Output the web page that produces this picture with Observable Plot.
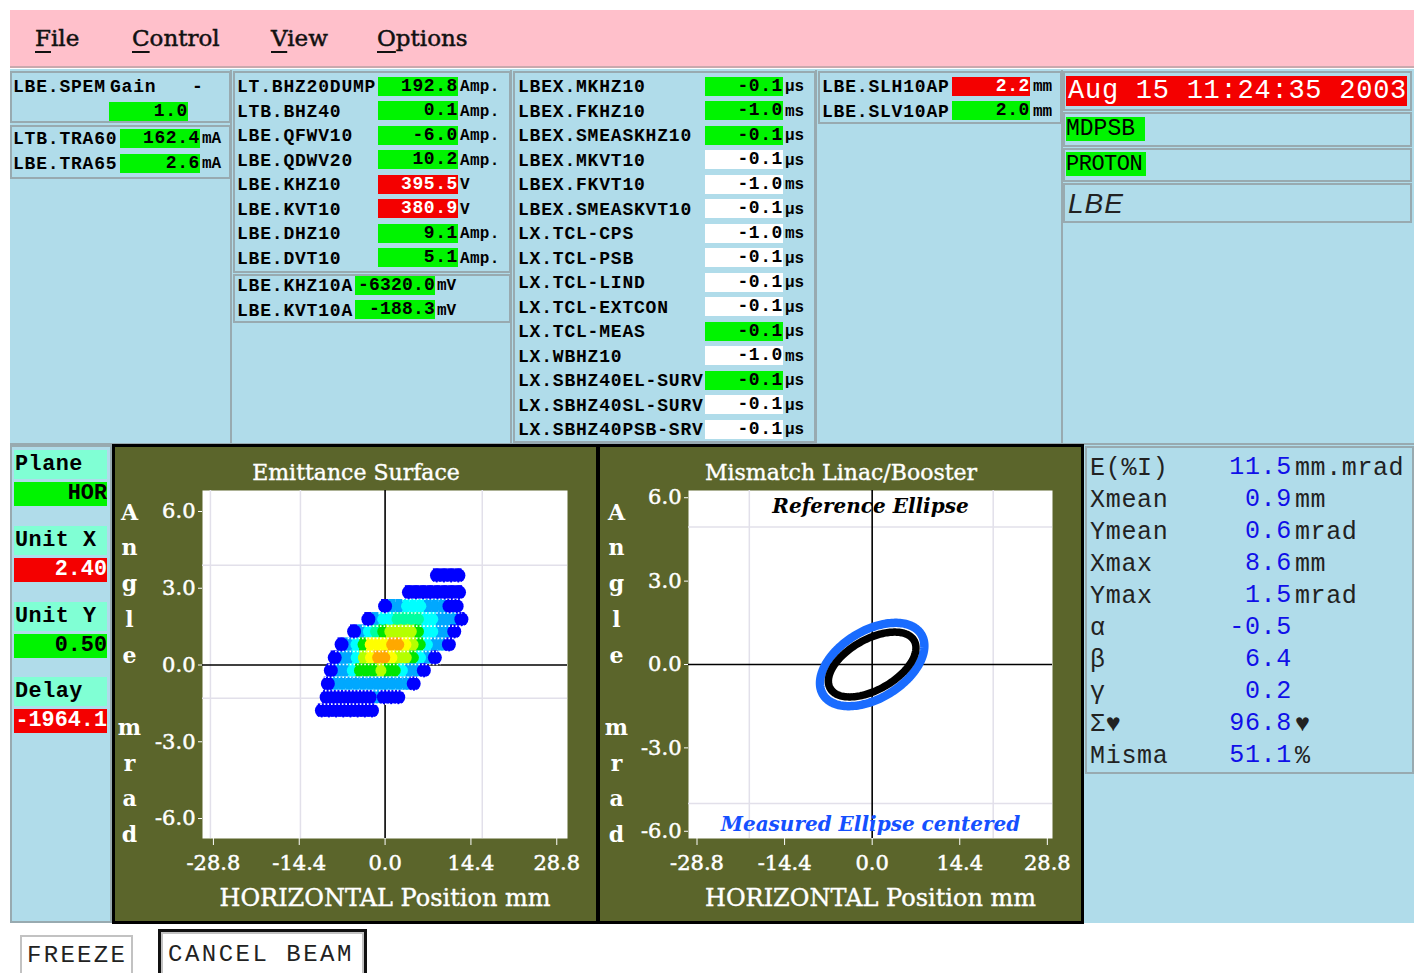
<!DOCTYPE html>
<html>
<head>
<meta charset="utf-8">
<script src="https://cdn.jsdelivr.net/npm/d3@7"></script>
<script src="https://cdn.jsdelivr.net/npm/@observablehq/plot@0.6"></script>
<style>
  html, body { margin: 0; padding: 0; background: #fff; }
  #app { position: relative; width: 1414px; height: 973px; overflow: hidden; background: #fff; }
  #app div { position: absolute; box-sizing: border-box; white-space: pre; }
  #app u { text-underline-offset: 5px; text-decoration-thickness: 2px; }
  #app svg g[aria-label$="tick label"] { stroke: white; stroke-width: 0.5px; }
</style>
</head>
<body>
<div id="app"></div>
<script>
// ---------- readings shown on the console ----------
const menuItems = ["File", "Control", "View", "Options"];

const gainName = "LBE.SPEM";
const gainValue = 1.0;
const transformerNames = ["LTB.TRA60", "LBE.TRA65"];
const transformerValues = [162.4, 2.6];
const transformerUnit = "mA";

const magnetNames = ["LT.BHZ20DUMP", "LTB.BHZ40", "LBE.QFWV10", "LBE.QDWV20", "LBE.KHZ10", "LBE.KVT10", "LBE.DHZ10", "LBE.DVT10"];
const magnetValues = [192.8, 0.1, -6.0, 10.2, 395.5, 380.9, 9.1, 5.1];
const magnetUnits = ["Amp.", "Amp.", "Amp.", "Amp.", "V", "V", "Amp.", "Amp."];
const magnetAlarm = [false, false, false, false, true, true, false, false];

const kickerNames = ["LBE.KHZ10A", "LBE.KVT10A"];
const kickerValues = [-6320.0, -188.3];
const kickerUnit = "mV";

const timingNames = ["LBEX.MKHZ10", "LBEX.FKHZ10", "LBEX.SMEASKHZ10", "LBEX.MKVT10", "LBEX.FKVT10", "LBEX.SMEASKVT10",
  "LX.TCL-CPS", "LX.TCL-PSB", "LX.TCL-LIND", "LX.TCL-EXTCON", "LX.TCL-MEAS", "LX.WBHZ10",
  "LX.SBHZ40EL-SURV", "LX.SBHZ40SL-SURV", "LX.SBHZ40PSB-SRV"];
const timingValues = [-0.1, -1.0, -0.1, -0.1, -1.0, -0.1, -1.0, -0.1, -0.1, -0.1, -0.1, -1.0, -0.1, -0.1, -0.1];
const timingUnits = ["µs", "ms", "µs", "µs", "ms", "µs", "ms", "µs", "µs", "µs", "µs", "ms", "µs", "µs", "µs"];
const timingActive = [true, true, true, false, false, false, false, false, false, false, true, false, true, false, false];

const slitNames = ["LBE.SLH10AP", "LBE.SLV10AP"];
const slitValues = [2.2, 2.0];
const slitAlarm = [true, false];
const slitUnit = "mm";

const timestamp = "Aug 15 11:24:35 2003";
const userName = "MDPSB";
const particle = "PROTON";
const lineName = "LBE";

const settingNames = ["Plane", "Unit X", "Unit Y", "Delay"];
const settingValues = ["HOR", "2.40", "0.50", "-1964.1"];
const settingAlarm = [false, true, false, true];

const statNames = ["E(%I)", "Xmean", "Ymean", "Xmax", "Ymax", "α", "β", "γ", "Σ♥", "Misma"];
const statValues = [11.5, 0.9, 0.6, 8.6, 1.5, -0.5, 6.4, 0.2, 96.8, 51.1];
const statUnits = ["mm.mrad", "mm", "mrad", "mm", "mrad", "", "", "", "♥", "%"];

const buttons = ["FREEZE", "CANCEL BEAM"];

// ---------- phase-space charts ----------
const positionTicks = [-28.8, -14.4, 0, 14.4, 28.8];
const angleTicks = [-6, -3, 0, 3, 6];
const xLabel = "HORIZONTAL Position mm";
const yLabel = "Angle mrad";

// emittance surface: one row of cells per angle slice, intensity level per cell (0 = lowest)
const rowAngle = [3.50, 2.84, 2.30, 1.79, 1.31, 0.80, 0.29, -0.21, -0.73, -1.26, -1.78];
const rowStart = [8.7, 4.0, 0.0, -2.8, -5.2, -7.3, -8.45, -9.1, -9.6, -9.8, -10.6];
const rowLevels = [
  "0000",
  "00000000",
  "01122211100",
  "01223333221110",
  "012345555422110",
  "0124666776542110",
  "011256776554210",
  "01124445442110",
  "0111111111110",
  "00000001000",
  "00000000"
];
const cellStep = 1.2;
const levelColors = ["#0000ff", "#00a8ff", "#00ffff", "#00ffa0", "#00e600", "#b4ff00", "#ffff00", "#ffa800"];
const emitGridX = [-29.3, -14.2, 16.3];
const emitGridY = [3.9, -1.3];

// mismatch: reference ellipse Twiss parameters; the measured one comes from the statistics
const referenceTwiss = {emittance: 7.2, alpha: -0.6, beta: 7.2};
const measuredTwiss = {emittance: statValues[0], alpha: statValues[5], beta: statValues[6]};
const mismatchGridX = [-20.2, 19.9];
const mismatchGridY = [4.95, -5.0];

// ---------- helpers ----------
const app = document.getElementById("app");
const GREEN = "#00f400", RED = "#f40000", LIGHT = "#b0dcea", AQUA = "#80ffd4", EDGE = "#98aab0";
const LABEL = 'bold 18px "Liberation Mono", monospace';
const UNIT = 'bold 16px "Liberation Mono", monospace';
const BIG = 'bold 21.8px "Liberation Mono", monospace';

function div(x, y, w, h, style, content) {
  const el = document.createElement("div");
  el.style.left = x + "px";
  el.style.top = y + "px";
  if (w != null) el.style.width = w + "px";
  if (h != null) el.style.height = h + "px";
  Object.assign(el.style, style || {});
  if (content != null) el.textContent = content;
  app.appendChild(el);
  return el;
}
function txt(x, cy, s, font, color = "#000", spacing = "0.8px") {
  return div(x, cy - 13, null, 28, {font, color, lineHeight: "28px", letterSpacing: spacing}, s);
}
function field(x, y, w, h, s, bg, color, font = LABEL, spacing = "0.6px") {
  return div(x, y, w, h, {background: bg, color, font, lineHeight: h + "px", textAlign: "right",
    letterSpacing: spacing, overflow: "hidden"}, s);
}
function frameBox(x, y, w, h) {
  return div(x, y, w, h, {border: `2px solid ${EDGE}`});
}
const fmt = v => v.toFixed(1);

// ---------- menu bar ----------
div(10, 10, 1404, 58, {background: "#ffc0cb", borderBottom: "2px solid #c9a9ae"});
const menuLeft = [35, 132, 271, 377];
menuItems.forEach((m, i) => {
  const el = div(menuLeft[i], 22, null, 32, {font: '23px "DejaVu Serif", serif', color: "#111", lineHeight: "32px", webkitTextStroke: "0.5px #111"});
  el.innerHTML = `<u>${m[0]}</u>${m.slice(1)}`;
});

// ---------- top readings ----------
div(10, 69, 1404, 376, {background: LIGHT, borderBottom: `2px solid ${EDGE}`});
div(10, 70, 222, 374, {borderRight: `2px solid ${EDGE}`});
div(232, 70, 280, 374, {borderRight: `2px solid ${EDGE}`});
div(512, 70, 305, 374, {borderRight: `2px solid ${EDGE}`});
div(817, 70, 246, 374, {borderRight: `2px solid ${EDGE}`});

// column 1
frameBox(10, 71, 221, 52);
txt(13, 86, gainName, LABEL);
txt(110, 86, "Gain", LABEL);
txt(192, 86, "-", LABEL);
field(109, 102, 79, 19, fmt(gainValue), GREEN, "#000");
frameBox(10, 125, 221, 54);
transformerNames.forEach((n, i) => {
  const cy = 138 + 25 * i;
  txt(13, cy, n, LABEL);
  field(120, cy - 9.5, 80, 19, fmt(transformerValues[i]), GREEN, "#000");
  txt(202, cy, transformerUnit, UNIT, "#000", "0px");
});

// column 2
frameBox(233, 71, 278, 202);
magnetNames.forEach((n, i) => {
  const cy = 86 + 24.5 * i;
  txt(237, cy, n, LABEL);
  field(378, cy - 9.5, 80, 19, fmt(magnetValues[i]), magnetAlarm[i] ? RED : GREEN, magnetAlarm[i] ? "#fff" : "#000");
  txt(460, cy, magnetUnits[i], UNIT, "#000", "0.3px");
});
frameBox(233, 274, 278, 49);
kickerNames.forEach((n, i) => {
  const cy = 285 + 24.5 * i;
  txt(237, cy, n, LABEL);
  field(355, cy - 9.5, 80, 19, fmt(kickerValues[i]), GREEN, "#000", LABEL, "0.2px");
  txt(437, cy, kickerUnit, UNIT, "#000", "0px");
});

// column 3
frameBox(513, 71, 303, 372);
timingNames.forEach((n, i) => {
  const cy = 86 + 24.5 * i;
  txt(518, cy, n, LABEL);
  field(705, cy - 9.5, 78, 19, fmt(timingValues[i]), timingActive[i] ? GREEN : "#ffffff", "#000");
  txt(785, cy, timingUnits[i], UNIT, "#000", "0px");
});

// column 4
frameBox(818, 71, 244, 53);
slitNames.forEach((n, i) => {
  const cy = 86 + 24.5 * i;
  txt(822, cy, n, LABEL);
  field(952, cy - 9.5, 78, 19, fmt(slitValues[i]), slitAlarm[i] ? RED : GREEN, slitAlarm[i] ? "#fff" : "#000");
  txt(1033, cy, slitUnit, UNIT, "#000", "0px");
});

// column 5
frameBox(1063, 71, 349, 40);
div(1066, 76, 341, 30, {background: RED, color: "#fff", font: '27px "Liberation Mono", monospace',
  lineHeight: "31px", letterSpacing: "0.75px", paddingLeft: "2px"}, timestamp);
frameBox(1063, 112, 349, 35);
div(1066, 117, 79, 24, {background: GREEN, color: "#000", font: '23px "Liberation Mono", monospace', lineHeight: "25px"}, userName);
frameBox(1063, 148, 349, 34);
div(1066, 152, 80, 24, {background: GREEN, color: "#000", font: '22px "Liberation Mono", monospace', lineHeight: "25px", letterSpacing: "-0.5px"}, particle);
frameBox(1063, 183, 349, 40);
txt(1068, 203, lineName, 'italic 28px "Liberation Sans", sans-serif', "#222", "1px");

// ---------- middle band ----------
div(10, 445, 1404, 478, {background: LIGHT});
div(10, 445, 102, 478, {border: `2px solid ${EDGE}`});
const settingTop = [450, 526, 602, 677];
settingNames.forEach((n, i) => {
  const y = settingTop[i];
  div(14, y, 93, 29, {background: AQUA, color: "#000", font: BIG, lineHeight: "29px", paddingLeft: "1px", letterSpacing: "0.5px"}, n);
  field(14, y + 32, 93, 24, settingValues[i], settingAlarm[i] ? RED : GREEN, settingAlarm[i] ? "#fff" : "#000", BIG, "0px");
});

// statistics
div(1085, 446, 329, 328, {border: `2px solid ${EDGE}`});
statNames.forEach((n, i) => {
  const cy = 467.5 + 32 * i;
  const font = '25px "Liberation Mono", monospace';
  txt(1090, cy, n, font, "#222", "0.7px");
  div(1190, cy - 15, 102, 30, {font, color: "#1010e8", lineHeight: "30px", textAlign: "right", letterSpacing: "0.7px"}, fmt(statValues[i]));
  txt(1295, cy, statUnits[i], font, "#222", "0.6px");
});

// ---------- buttons ----------
div(20, 935, 113, 50, {background: "#fff", border: "2px solid #c2c2c2", font: '24px "Liberation Mono", monospace',
  lineHeight: "38px", paddingLeft: "5px", letterSpacing: "2.3px", color: "#222"}, buttons[0]);
div(158, 929, 209, 60, {background: "#fff", border: "3px solid #111", boxShadow: "inset 0 0 0 2px #c2c2c2"});
div(168, 935, 196, 40, {font: '24px "Liberation Mono", monospace', lineHeight: "40px", letterSpacing: "2.5px", color: "#222"}, buttons[1]);

// ---------- phase-space plots ----------
const OLIVE = "#5b652b";
const serif = '"DejaVu Serif", serif';
const stackedLabel = [...yLabel].map(c => (c === " " ? "\u00a0" : c)).join("\n");

function phasePlot({title, xDomain, yDomain, gridX, gridY, marginLeft, titleDx, labelDx, marks, color}) {
  return Plot.plot({
    width: 485,
    height: 478,
    marginLeft,
    marginRight: 31,
    marginTop: 45,
    marginBottom: 85,
    style: {background: "transparent", color: "white", fontFamily: serif, fontSize: "21px", overflow: "visible"},
    x: {domain: xDomain},
    y: {domain: yDomain},
    ...(color ? {color} : {}),
    marks: [
      Plot.frame({fill: "white"}),
      Plot.ruleX(gridX, {stroke: "#e2e0ea", strokeWidth: 1.5}),
      Plot.ruleY(gridY, {stroke: "#e2e0ea", strokeWidth: 1.5}),
      Plot.ruleX([0], {stroke: "#000", strokeWidth: 1.6}),
      Plot.ruleY([0], {stroke: "#000", strokeWidth: 1.6}),
      ...marks,
      Plot.axisX(positionTicks, {tickFormat: fmt, tickSize: 7, tickPadding: 10, label: null, fontSize: 21}),
      Plot.axisY(angleTicks, {tickFormat: fmt, tickSize: 4, tickPadding: 3, label: null, fontSize: 21}),
      Plot.text([title], {text: d => d, frameAnchor: "top", dx: titleDx, dy: -26, fill: "white",
        stroke: "white", strokeWidth: 0.4, fontSize: 22}),
      Plot.text([xLabel], {text: d => d, frameAnchor: "bottom", dy: 67, fill: "white",
        stroke: "white", strokeWidth: 0.4, fontSize: 24}),
      Plot.text([stackedLabel], {text: d => d, frameAnchor: "left", dx: labelDx, dy: 5, lineHeight: 1.63,
        fill: "white", fontSize: 22, fontWeight: "bold", textAnchor: "middle"})
    ]
  });
}

function mount(svg, left) {
  const holder = div(left, 445, 485, 478, {background: OLIVE, outline: "3px solid #000", outlineOffset: "-2px"});
  svg.style.position = "absolute";
  svg.style.left = "0px";
  svg.style.top = "0px";
  holder.appendChild(svg);
}

// emittance surface
const emitCells = rowAngle.flatMap((y, r) =>
  Array.from(rowLevels[r], (c, i) => ({x: rowStart[r] + i * cellStep, y, level: +c})));
const emitRows = rowAngle.map((y, r) => ({
  y: y - 0.27,
  x1: rowStart[r] - 1.0,
  x2: rowStart[r] + (rowLevels[r].length - 1) * cellStep + 1.0
}));
// lower intensities underneath, so the hot core sits on top with rounded edges
const innerCells = emitCells.filter(d => d.level > 0).sort((a, b) => a.level - b.level);
const edgeCells = emitCells.filter(d => d.level === 0);

mount(phasePlot({
  title: "Emittance Surface",
  xDomain: [-30.63, 30.6],
  yDomain: [-6.78, 6.82],
  gridX: emitGridX,
  gridY: emitGridY,
  marginLeft: 89,
  titleDx: -29,
  labelDx: -73,
  color: {type: "ordinal", domain: levelColors.map((_, i) => i), range: levelColors},
  marks: [
    Plot.rect(emitCells, {
      x1: d => d.x - cellStep / 2, x2: d => d.x + cellStep / 2,
      y1: d => d.y - 0.26, y2: d => d.y + 0.26, fill: "level"
    }),
    Plot.dot(innerCells, {x: "x", y: "y", r: 5.5, fill: "level", stroke: null}),
    Plot.dot(edgeCells, {x: "x", y: "y", r: 7, fill: "level", stroke: null}),
    Plot.ruleY(emitRows, {y: "y", x1: "x1", x2: "x2", stroke: "white", strokeWidth: 1.6, strokeDasharray: "1.6 2"})
  ]
}), 113);

// mismatch linac/booster
function twissEllipse({emittance, alpha, beta}) {
  const a = Math.sqrt(emittance * beta);
  const b = Math.sqrt(emittance / beta);
  return d3.range(0, 361, 2).map(deg => {
    const t = deg * Math.PI / 180;
    return {x: a * Math.cos(t), y: -b * (alpha * Math.cos(t) + Math.sin(t))};
  });
}

mount(phasePlot({
  title: "Mismatch Linac/Booster",
  xDomain: [-30.2, 29.65],
  yDomain: [-6.26, 6.26],
  gridX: mismatchGridX,
  gridY: mismatchGridY,
  marginLeft: 90,
  titleDx: -29.5,
  labelDx: -72,
  marks: [
    Plot.line(twissEllipse(measuredTwiss), {x: "x", y: "y", stroke: "#1a6cff", strokeWidth: 8.5}),
    Plot.line(twissEllipse(referenceTwiss), {x: "x", y: "y", stroke: "#000", strokeWidth: 7.5}),
    Plot.text(["Reference Ellipse"], {text: d => d, frameAnchor: "top", dy: 8, fill: "#000",
      fontSize: 20, fontWeight: "bold", fontStyle: "italic"}),
    Plot.text(["Measured Ellipse centered"], {text: d => d, frameAnchor: "bottom", dy: -8, fill: "#1450ff",
      fontSize: 20, fontWeight: "bold", fontStyle: "italic"})
  ]
}), 598);
</script>
</body>
</html>
